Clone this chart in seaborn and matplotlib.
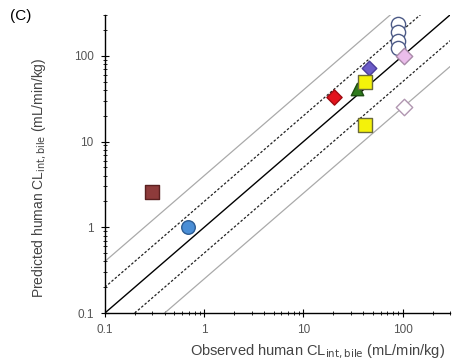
import numpy as np
import pandas as pd
import seaborn as sns
import matplotlib.pyplot as plt
from matplotlib.ticker import FixedLocator, FixedFormatter, LogLocator, NullFormatter

# ----------------------------
# Dati (observed vs predicted CLint,bile)
# ----------------------------
observed = [0.30, 0.68, 20.5, 35.0, 42.0, 46.0, 42.0, 103.0, 103.0, 90.0, 90.0, 90.0, 90.0]
predicted = [2.6, 1.0, 33.0, 41.0, 49.0, 72.0, 15.4, 100.0, 25.0, 235.0, 190.0, 150.0, 122.0]
gruppo = ["brown", "blue", "red", "green", "yellow", "purple", "yellow",
          "pink", "pink_open", "open_circle", "open_circle", "open_circle", "open_circle"]

ticks = [0.1, 1, 10, 100]
tick_labels = ["0.1", "1", "10", "100"]
fold_lines = [2, 4]

df = pd.DataFrame({"obs": observed, "pred": predicted, "grp": gruppo})

# stile dei marker per gruppo
stili = {
    "brown": dict(marker="s", color="#8E3B3B", edgecolor="#5A2020", s=95),
    "blue": dict(marker="o", color="#4A8ED6", edgecolor="#2C5C94", s=95),
    "red": dict(marker="D", color="#E3121C", edgecolor="#A00A10", s=60),
    "green": dict(marker="^", color="#2E7A1C", edgecolor="#1C4D10", s=80),
    "yellow": dict(marker="s", color="#F4F20A", edgecolor="#6B6B3A", s=110),
    "purple": dict(marker="D", color="#6C5CC8", edgecolor="#4A3C9A", s=55),
    "pink": dict(marker="D", color="#EBBDEB", edgecolor="#A88AA8", s=70),
    "pink_open": dict(marker="D", color="white", edgecolor="#B096B0", s=70),
    "open_circle": dict(marker="o", color="white", edgecolor="#4C5A86", s=105),
}

sns.set_theme(style="ticks")
plt.rcParams["font.family"] = ["Liberation Sans", "DejaVu Sans"]

fig = plt.figure(figsize=(4.56, 3.64), dpi=100)
ax = fig.add_axes([0.230, 0.140, 0.757, 0.819])

lim = (0.1, 300)
xs = np.array(lim)

# linee di riferimento
ax.plot(xs, xs, color="black", lw=1.0, zorder=1)
for f in fold_lines:
    if f == 2:
        kw = dict(color="#222222", lw=0.9, ls=(0, (2.0, 1.5)))
    else:
        kw = dict(color="#AAAAAA", lw=0.9, ls="-")
    ax.plot(xs, xs * f, zorder=1, **kw)
    ax.plot(xs, xs / f, zorder=1, **kw)

ordine = ["brown", "blue", "red", "green", "purple", "yellow",
          "pink_open", "open_circle", "pink"]
for g in ordine:
    st = stili[g]
    sub = df[df["grp"] == g]
    sns.scatterplot(data=sub, x="obs", y="pred", ax=ax, marker=st["marker"],
                    color=st["color"], edgecolor=st["edgecolor"], s=st["s"],
                    linewidth=1.0, zorder=3, legend=False, clip_on=False)

ax.set_xscale("log")
ax.set_yscale("log")
ax.set_xlim(*lim)
ax.set_ylim(*lim)

for axis in (ax.xaxis, ax.yaxis):
    axis.set_major_locator(FixedLocator(ticks))
    axis.set_major_formatter(FixedFormatter(tick_labels))
    axis.set_minor_locator(LogLocator(base=10, subs=np.arange(2, 10)))
    axis.set_minor_formatter(NullFormatter())

ax.tick_params(which="major", direction="inout", length=6, width=0.8,
               labelsize=8.5, colors="black", labelcolor="#555555", pad=5)
ax.tick_params(which="minor", direction="inout", length=3, width=0.6, colors="black")

for side in ("top", "right"):
    ax.spines[side].set_visible(False)
for side in ("left", "bottom"):
    ax.spines[side].set_linewidth(1.0)
    ax.spines[side].set_color("black")

ax.set_xlabel(r"Observed human CL$_{\mathrm{int,bile}}$ (mL/min/kg)",
              fontsize=10.5, color="#444444", labelpad=6)
ax.set_ylabel(r"Predicted human CL$_{\mathrm{int,bile}}$ (mL/min/kg)",
              fontsize=10, color="#444444", labelpad=10)
ax.xaxis.set_label_coords(0.615, -0.1)
ax.yaxis.set_label_coords(-0.165, 0.455)

fig.text(0.022, 0.955, "(C)", fontsize=11, color="black", va="center")

fig.savefig("out.png", dpi=100)
